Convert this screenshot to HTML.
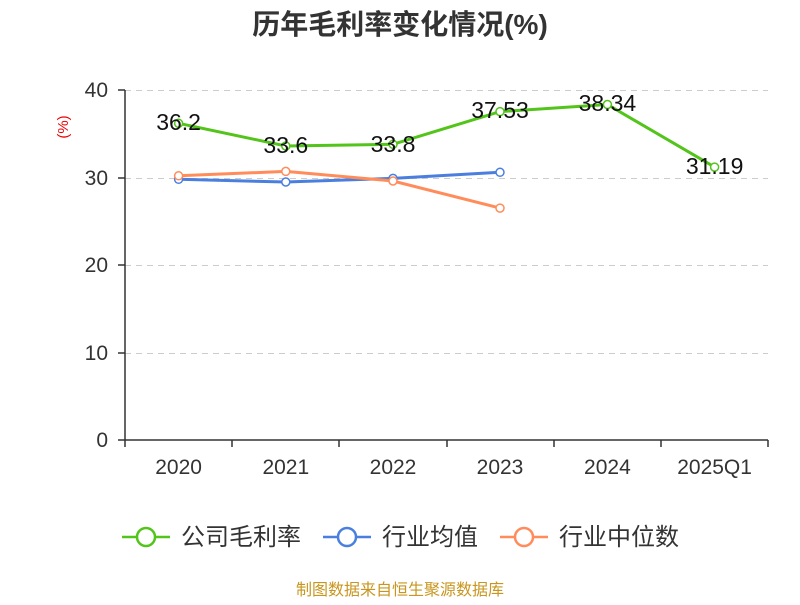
<!DOCTYPE html>
<html><head><meta charset="utf-8"><style>
body{margin:0;background:#fff;}
svg text{font-family:"Liberation Sans","Noto Sans CJK SC",sans-serif;}
</style></head><body>
<svg width="800" height="600" xmlns="http://www.w3.org/2000/svg">
<text x="400" y="34" text-anchor="middle" font-size="28" font-weight="bold" fill="#333">历年毛利率变化情况(%)</text>
<text x="68" y="127" font-size="15" fill="#e00" text-anchor="middle" transform="rotate(-90 68 127)">(%)</text>
<g stroke="#ccc" stroke-dasharray="6,5" stroke-width="1">
<line x1="125" y1="90.5" x2="768" y2="90.5"/>
<line x1="125" y1="178.5" x2="768" y2="178.5"/>
<line x1="125" y1="265.5" x2="768" y2="265.5"/>
<line x1="125" y1="353.5" x2="768" y2="353.5"/>
</g>
<g stroke="#333" stroke-width="1.5">
<line x1="125" y1="90" x2="125" y2="440"/>
<line x1="118" y1="90" x2="125" y2="90"/><line x1="118" y1="178" x2="125" y2="178"/>
<line x1="118" y1="265" x2="125" y2="265"/><line x1="118" y1="353" x2="125" y2="353"/>
<line x1="118" y1="440" x2="125" y2="440"/>
<line x1="125" y1="440" x2="768" y2="440"/>
<line x1="125" y1="440" x2="125" y2="447"/><line x1="232" y1="440" x2="232" y2="447"/>
<line x1="339" y1="440" x2="339" y2="447"/><line x1="447" y1="440" x2="447" y2="447"/>
<line x1="554" y1="440" x2="554" y2="447"/><line x1="661" y1="440" x2="661" y2="447"/>
<line x1="768" y1="440" x2="768" y2="447"/>
</g>
<g font-size="21" fill="#333" text-anchor="end">
<text x="108" y="97">40</text><text x="108" y="185">30</text><text x="108" y="272">20</text>
<text x="108" y="360">10</text><text x="108" y="447">0</text>
</g>
<g font-size="21" fill="#333" text-anchor="middle">
<text x="178.6" y="474">2020</text><text x="285.8" y="474">2021</text><text x="393" y="474">2022</text>
<text x="500" y="474">2023</text><text x="607.4" y="474">2024</text><text x="714.6" y="474">2025Q1</text>
</g>
<g fill="none" stroke-width="3">
<polyline stroke="#52c41a" points="178.6,123.3 285.8,146 393,144.3 500,111.6 607.4,104.5 714.6,167.1"/>
<polyline stroke="#4a7fe0" points="178.6,179.3 285.8,182 393,178.4 500,172.3"/>
<polyline stroke="#ff8c5a" points="178.6,175.8 285.8,171.4 393,181 500,208.1"/>
</g>
<g fill="#fff" stroke-width="1.5">
<g stroke="#52c41a"><circle cx="178.6" cy="123.3" r="4"/><circle cx="285.8" cy="146" r="4"/><circle cx="393" cy="144.3" r="4"/><circle cx="500" cy="111.6" r="4"/><circle cx="607.4" cy="104.5" r="4"/><circle cx="714.6" cy="167.1" r="4"/></g>
<g stroke="#4a7fe0"><circle cx="178.6" cy="179.3" r="4"/><circle cx="285.8" cy="182" r="4"/><circle cx="393" cy="178.4" r="4"/><circle cx="500" cy="172.3" r="4"/></g>
<g stroke="#ff8c5a"><circle cx="178.6" cy="175.8" r="4"/><circle cx="285.8" cy="171.4" r="4"/><circle cx="393" cy="181" r="4"/><circle cx="500" cy="208.1" r="4"/></g>
</g>
<g font-size="23" fill="#111" text-anchor="middle">
<text x="178.6" y="130">36.2</text><text x="285.8" y="153">33.6</text><text x="393" y="152">33.8</text>
<text x="500" y="118">37.53</text><text x="607.4" y="111">38.34</text><text x="714.6" y="174">31.19</text>
</g>
<g stroke-width="2.5" fill="#fff">
<line x1="122" y1="537" x2="170" y2="537" stroke="#52c41a"/><circle cx="146" cy="537" r="9" stroke="#52c41a"/>
<line x1="323" y1="537" x2="371" y2="537" stroke="#4a7fe0"/><circle cx="347" cy="537" r="9" stroke="#4a7fe0"/>
<line x1="500" y1="537" x2="548" y2="537" stroke="#ff8c5a"/><circle cx="524" cy="537" r="9" stroke="#ff8c5a"/>
</g>
<g font-size="24" fill="#333">
<text x="181" y="545">公司毛利率</text><text x="382" y="545">行业均值</text><text x="559" y="545">行业中位数</text>
</g>
<text x="400" y="595" text-anchor="middle" font-size="16" fill="#c8961e">制图数据来自恒生聚源数据库</text>
</svg>
</body></html>
